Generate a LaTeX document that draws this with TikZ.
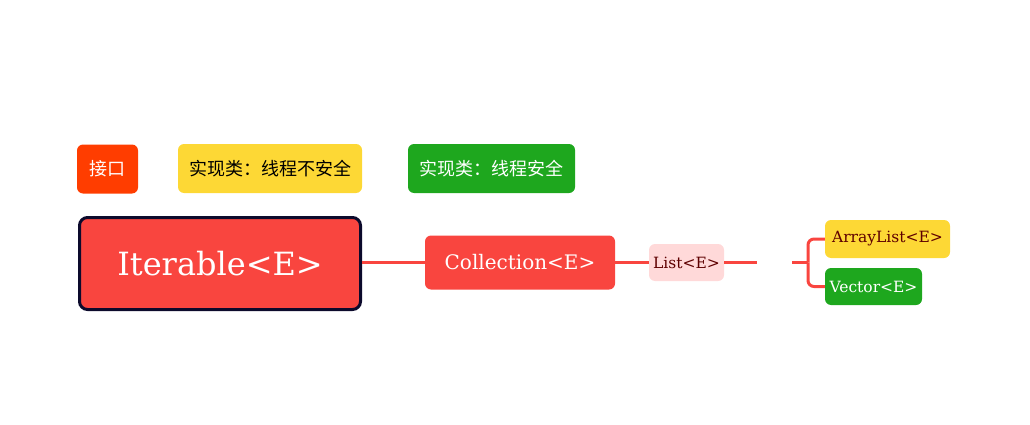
\documentclass[tikz,border=0pt]{standalone}
\usepackage{fontspec}
\setmainfont{DejaVu Serif}
\newfontfamily\cjk{Noto Sans CJK SC}
\usetikzlibrary{positioning}
\definecolor{linkred}{HTML}{F9453F}
\definecolor{ifacered}{HTML}{FF3D00}
\definecolor{unsafeyel}{HTML}{FDD835}
\definecolor{safegreen}{HTML}{1EA71E}
\definecolor{rootline}{HTML}{0C0A2C}
\definecolor{listpink}{HTML}{FFD9D9}
\definecolor{darktext}{HTML}{5E0000}
\begin{document}
\begin{tikzpicture}[x=1pt,y=-1pt,
  box/.style={rounded corners=6pt,inner sep=0pt,text=white},
  legend/.style={box,minimum height=49pt,font=\cjk\fontsize{18}{21}\selectfont},
  leaf/.style={box,minimum height=37pt,font=\fontsize{15.5}{18}\selectfont},
  link/.style={draw=linkred,line width=3pt}]
\useasboundingbox (0,0) rectangle (1030,425);
% legend
\node[legend,fill=ifacered,minimum width=61pt] (iface) at (107.5,169) {接口};
\node[legend,fill=unsafeyel,text=black,minimum width=184pt] (unsafe) at (270,168.5) {实现类：线程不安全};
\node[legend,fill=safegreen,minimum width=167pt] (safe) at (491.5,168.5) {实现类：线程安全};
% tree
\node[box,fill=linkred,draw=rootline,line width=3pt,rounded corners=8pt,minimum width=281pt,minimum height=92pt,font=\fontsize{32}{38}\selectfont] (iter) at (220,263.5) {Iterable<E>};
\node[box,fill=linkred,minimum width=190pt,minimum height=54pt,font=\fontsize{20}{24}\selectfont] (coll) at (520,262.5) {Collection<E>};
\node[leaf,fill=listpink,text=darktext,minimum width=75pt] (list) at (686.5,262.5) {List<E>};
\node[leaf,fill=unsafeyel,text=darktext,minimum width=125pt,minimum height=38pt] (alist) at (887.5,239) {ArrayList<E>};
\node[leaf,fill=safegreen,minimum width=97pt] (vec) at (873.5,286.5) {Vector<E>};
\coordinate (gapl) at (757,262.5);
\coordinate (gapr) at (792,262.5);
\coordinate (fork) at (808,262.5);
\draw[link] (iter.east |- coll.west) -- (coll.west);
\draw[link] (coll) -- (list);
\draw[link] (list) -- (gapl);
\draw[link] (gapr) -- (fork);
\foreach \n in {alist,vec}{\draw[link,rounded corners=6pt] (fork) |- (\n.west);}
\end{tikzpicture}
\end{document}
